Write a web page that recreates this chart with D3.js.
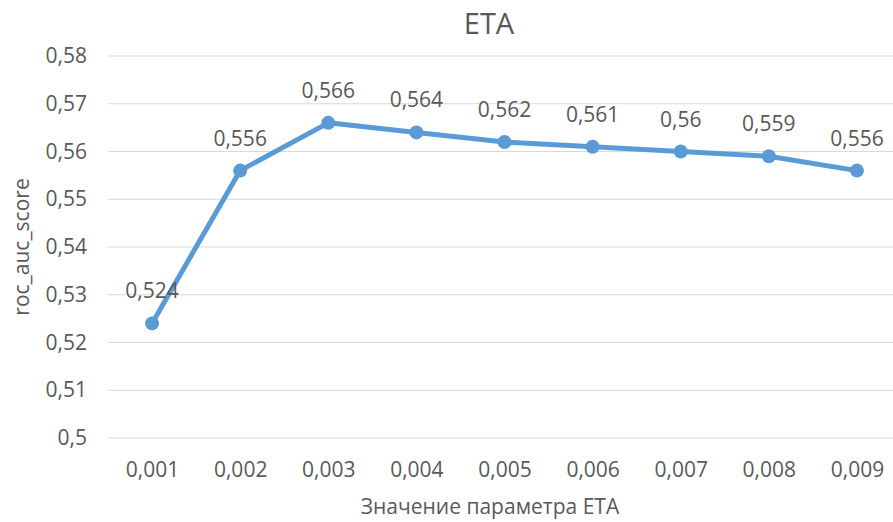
<!DOCTYPE html>
<html>
<head>
<meta charset="utf-8">
<script src="https://cdn.jsdelivr.net/npm/d3@7"></script>
<style>
  html, body { margin: 0; padding: 0; background: #fff; }
  svg { display: block; font-family: "Open Sans", "Noto Sans", sans-serif; }
</style>
</head>
<body>
<svg id="chart" width="893" height="522"></svg>
<script>
// ETA parameter sweep: roc_auc_score for each learning-rate value
const etaValues = ["0,001", "0,002", "0,003", "0,004", "0,005", "0,006", "0,007", "0,008", "0,009"];
const scores = [0.524, 0.556, 0.566, 0.564, 0.562, 0.561, 0.56, 0.559, 0.556];
const yTicks = [0.5, 0.51, 0.52, 0.53, 0.54, 0.55, 0.56, 0.57, 0.58];

const fmt = v => String(+v.toFixed(3)).replace(".", ",");

const svg = d3.select("#chart");
const textColor = "#595959";
const lineColor = "#5B9BD5";

const plot = { left: 108, right: 901, top: 56, bottom: 438 };

const x = d3.scalePoint().domain(etaValues).range([plot.left, plot.right]).padding(0.5);
const y = d3.scaleLinear().domain([0.5, 0.58]).range([plot.bottom, plot.top]);

// Horizontal gridlines
svg.append("g")
  .selectAll("line")
  .data(yTicks)
  .join("line")
  .attr("x1", plot.left).attr("x2", plot.right)
  .attr("y1", d => y(d)).attr("y2", d => y(d))
  .attr("stroke", "#d9d9d9").attr("stroke-width", 1);

// Y axis tick labels
const yAxis = svg.append("g")
  .attr("transform", `translate(${plot.left - 21},0)`)
  .call(d3.axisLeft(y).tickValues(yTicks).tickFormat(fmt).tickSize(0).tickPadding(0));
yAxis.select(".domain").remove();
yAxis.selectAll("text")
  .attr("fill", textColor).attr("font-size", 21)
  .attr("font-family", "\"Open Sans\", \"Noto Sans\", sans-serif");

// X axis tick labels
const xAxis = svg.append("g")
  .attr("transform", `translate(0,${plot.bottom + 24})`)
  .call(d3.axisBottom(x).tickSize(0).tickPadding(0));
xAxis.select(".domain").remove();
xAxis.selectAll("text")
  .attr("fill", textColor).attr("font-size", 21)
  .attr("font-family", "\"Open Sans\", \"Noto Sans\", sans-serif");

// Title
svg.append("text")
  .attr("x", 489).attr("y", 34)
  .attr("text-anchor", "middle")
  .attr("fill", textColor).attr("font-size", 29)
  .text("ETA");

// Axis titles
svg.append("text")
  .attr("x", 490).attr("y", 514)
  .attr("text-anchor", "middle")
  .attr("fill", textColor).attr("font-size", 21)
  .text("Значение параметра ETA");

svg.append("text")
  .attr("transform", "translate(29,247) rotate(-90)")
  .attr("text-anchor", "middle")
  .attr("fill", textColor).attr("font-size", 21)
  .text("roc_auc_score");

// Series line
const pts = etaValues.map((k, i) => ({ k, v: scores[i] }));
svg.append("path")
  .datum(pts)
  .attr("fill", "none")
  .attr("stroke", lineColor).attr("stroke-width", 5)
  .attr("stroke-linejoin", "round")
  .attr("d", d3.line().x(d => x(d.k)).y(d => y(d.v)));

// Markers
svg.append("g")
  .selectAll("circle")
  .data(pts)
  .join("circle")
  .attr("cx", d => x(d.k)).attr("cy", d => y(d.v))
  .attr("r", 7).attr("fill", lineColor);

// Value labels
svg.append("g")
  .selectAll("text")
  .data(pts)
  .join("text")
  .attr("x", d => x(d.k)).attr("y", d => y(d.v) - 25)
  .attr("text-anchor", "middle")
  .attr("fill", textColor).attr("font-size", 21)
  .text(d => fmt(d.v));
</script>
</body>
</html>
